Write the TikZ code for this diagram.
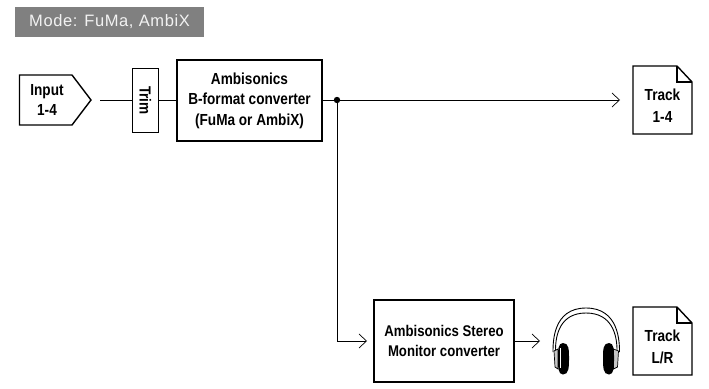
\documentclass[tikz,border=0pt]{standalone}
\usepackage{fontspec}
\setmainfont{Liberation Sans}
\newfontfamily\cond[FakeStretch=0.85]{Liberation Sans}
\usetikzlibrary{arrows.meta}
\definecolor{banner}{RGB}{128,128,128}
\tikzset{
  x=1pt,y=-1pt,
  blk/.style={draw=black,line width=1.4pt,fill=white,inner sep=0pt,align=center,font=\cond\bfseries\fontsize{16}{20.5}\selectfont},
  lab/.style={inner sep=0pt,align=center,font=\cond\bfseries\fontsize{16}{20.5}\selectfont},
  tracklab/.style={lab,font=\cond\bfseries\fontsize{16}{22.5}\selectfont},
  conn/.style={draw=black,line width=0.7pt},
  arr/.style={conn,-{Straight Barb[length=7.5pt,width=14pt,line width=0.7pt]}},
  shapeline/.style={draw=black,line width=1.4pt,line join=miter,fill=white},
}
\begin{document}
\begin{tikzpicture}
\useasboundingbox (0,0) rectangle (709,388);
% banner
\node[fill=banner,text=white!95!black,minimum width=189pt,minimum height=30pt,inner sep=0pt,font=\addfontfeature{LetterSpace=3.7}\fontsize{16.5}{18}\selectfont] (mode) at (109.5,22) {Mode: FuMa, AmbiX};
% input
\draw[shapeline] (19.5,75) -- (72,75) -- (91,100) -- (72,125) -- (19.5,125) -- cycle;
\node[lab] (input) at (47,100) {Input\\1-4};
\coordinate (inputout) at (100,100);
% boxes
\node[blk,rotate=-90,minimum width=64pt,minimum height=26pt] (trim) at (145.5,100.5) {Trim};
\node[blk,minimum width=145pt,minimum height=81pt] (conv) at (249.5,100.5) {Ambisonics\\B-format converter\\(FuMa or AmbiX)};
\node[blk,minimum width=140pt,minimum height=82pt,font=\cond\bfseries\fontsize{15.5}{20.5}\selectfont] (mon) at (444,341) {Ambisonics Stereo\\Monitor converter};
% tracks
\draw[shapeline] (633,66) -- (677,66) -- (692,82) -- (692,134) -- (633,134) -- cycle;
\draw[shapeline,fill=none] (677,66) -- (677,82) -- (692,82);
\node[tracklab] (t1) at (662.5,105.5) {Track\\1-4};
\draw[shapeline] (633,307) -- (677,307) -- (692,323) -- (692,375) -- (633,375) -- cycle;
\draw[shapeline,fill=none] (677,307) -- (677,323) -- (692,323);
\node[tracklab] (t2) at (662.5,347) {Track\\L/R};
% connectors
\coordinate (t1in) at (620,100);
\coordinate (junction) at (337,100);
\coordinate (corner) at (337,341);
\coordinate (monin) at (367,341);
\coordinate (hpin) at (540,341);
\draw[conn] (inputout) -- (trim.south |- inputout);
\draw[conn] (trim.north |- inputout) -- (conv.west |- inputout);
\draw[arr] (conv.east |- junction) -- (t1in);
\draw[arr] (junction) -- (corner) -- (monin);
\draw[arr] (mon.east |- hpin) -- (hpin);
\fill (junction) circle (3.2pt);
% headphones
\draw[line width=0.9pt] (553,352) .. controls (553,342) and (553,308) .. (586,308) .. controls (619,308) and (619.5,342) .. (619.5,352);
\draw[line width=0.9pt] (555.5,350) .. controls (555.5,335) and (560,313) .. (586,313) .. controls (612,313) and (617,335) .. (617,350);
\draw[line width=0.7pt,fill=gray!45] (554,351) -- (558,349) -- (558,369) -- (555,367) -- cycle;
\draw[line width=0.7pt,fill=gray!45] (618.5,351) -- (613.5,349) -- (613.5,369) -- (617.5,367) -- cycle;
\fill (563,343) .. controls (569,343) and (569,350) .. (569,358) .. controls (569,367) and (569,374.5) .. (563,374.5) .. controls (558,374.5) and (558,367) .. (558,358) .. controls (558,350) and (558,343) .. (563,343) -- cycle;
\fill (609,343) .. controls (614,343) and (614,350) .. (614,358) .. controls (614,367) and (614,374.5) .. (609,374.5) .. controls (603,374.5) and (603,367) .. (603,358) .. controls (603,350) and (603,343) .. (609,343) -- cycle;
\fill[white] (560,348) rectangle (561.2,368);
\end{tikzpicture}
\end{document}
